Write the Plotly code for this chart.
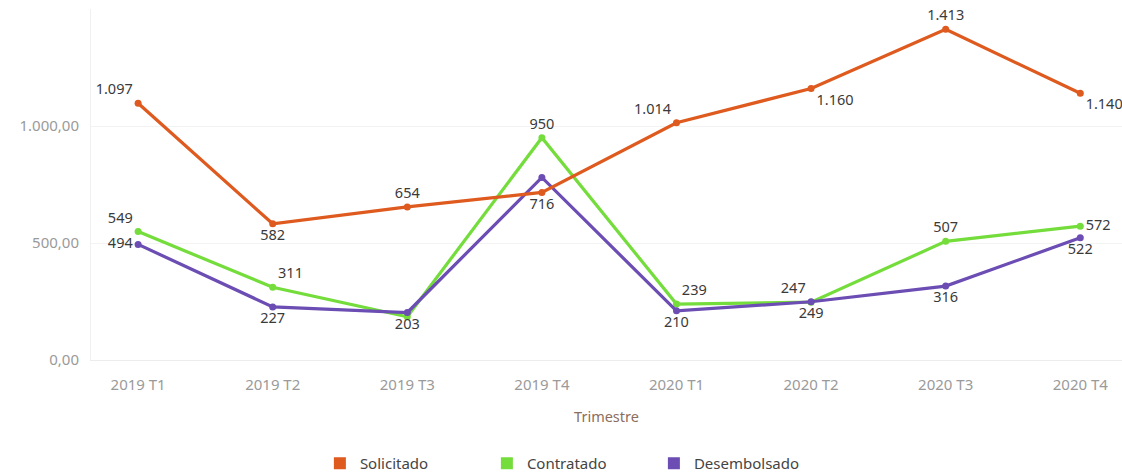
import plotly.graph_objects as go

trimestres = ["2019 T1", "2019 T2", "2019 T3", "2019 T4", "2020 T1", "2020 T2", "2020 T3", "2020 T4"]
solicitado = [1097, 582, 654, 716, 1014, 1160, 1413, 1140]
contratado = [549, 311, 185, 950, 239, 247, 507, 572]
desembolsado = [494, 227, 203, 780, 210, 249, 316, 522]
# which points carry a visible data label in the original
show_contratado = [True, True, False, True, True, True, True, True]
show_desembolsado = [True, True, True, False, True, True, True, True]

series_names = ["Solicitado", "Contratado", "Desembolsado"]
colors = ["#DE5A1E", "#74DD3C", "#6B4DB3"]


def fmt(v):
    return f"{v:,}".replace(",", ".")


def labels(vals, mask=None):
    if mask is None:
        mask = [True] * len(vals)
    return [fmt(v) if m else "" for v, m in zip(vals, mask)]


pos_sol = ["top left", "bottom center", "top center", "bottom center",
           "top left", "bottom right", "top center", "bottom right"]
pos_con = ["top left", "top right", "top center", "top center",
           "top right", "top left", "top center", "middle right"]
pos_des = ["middle left", "bottom center", "bottom center", "bottom center",
           "bottom center", "bottom center", "bottom center", "bottom center"]

fig = go.Figure()
label_font = dict(family="Noto Sans, sans-serif", size=14.5, color="#3a3a3a")

for name, vals, col, txt, pos in [
    ("Contratado", contratado, colors[1], labels(contratado, show_contratado), pos_con),
    ("Desembolsado", desembolsado, colors[2], labels(desembolsado, show_desembolsado), pos_des),
    ("Solicitado", solicitado, colors[0], labels(solicitado), pos_sol),
]:
    fig.add_trace(go.Scatter(
        x=trimestres, y=vals, mode="lines+markers+text", name=name,
        line=dict(color=col, width=3.2), marker=dict(color=col, size=7),
        text=txt, textposition=pos, textfont=label_font,
        cliponaxis=False, showlegend=False,
    ))

for name, col in zip(series_names, colors):
    fig.add_trace(go.Scatter(
        x=[None], y=[None], mode="markers", name=name,
        marker=dict(color=col, size=16, symbol="square"),
        showlegend=True,
    ))

fig.update_layout(
    width=1122, height=480,
    margin=dict(l=91, r=0, t=9, b=120),
    paper_bgcolor="white", plot_bgcolor="white",
    font=dict(family="Noto Sans, sans-serif"),
    xaxis=dict(
        range=[-0.35, 7.31], showgrid=False, automargin=False,
        showline=True, linecolor="#ececec", linewidth=1,
        ticks="outside", ticklen=11, tickcolor="rgba(0,0,0,0)",
        tickfont=dict(size=15, color="#9a9a9a"),
        title=dict(text="Trimestre", font=dict(size=14.5, color="#8a6e60"), standoff=18),
        zeroline=False,
    ),
    yaxis=dict(
        range=[0, 1500], tickvals=[0, 500, 1000],
        ticktext=["0,00", "500,00", "1.000,00"], automargin=False,
        showgrid=True, gridcolor="#f3f3f3", gridwidth=1,
        showline=True, linecolor="#f0f0f0",
        ticks="outside", ticklen=8, tickcolor="rgba(0,0,0,0)",
        tickfont=dict(size=15, color="#9a9a9a"),
        zeroline=False,
    ),
    legend=dict(
        orientation="h", x=0.222, xanchor="left", y=-0.3419, yanchor="bottom",
        font=dict(size=15, color="#444"), entrywidth=122, entrywidthmode="pixels",
        itemsizing="constant", borderwidth=0,
    ),
)

fig.write_html(
    "out.html",
    config={"displayModeBar": False},
    post_script="document.body.style.margin='0px';document.body.style.overflow='hidden';",
)
